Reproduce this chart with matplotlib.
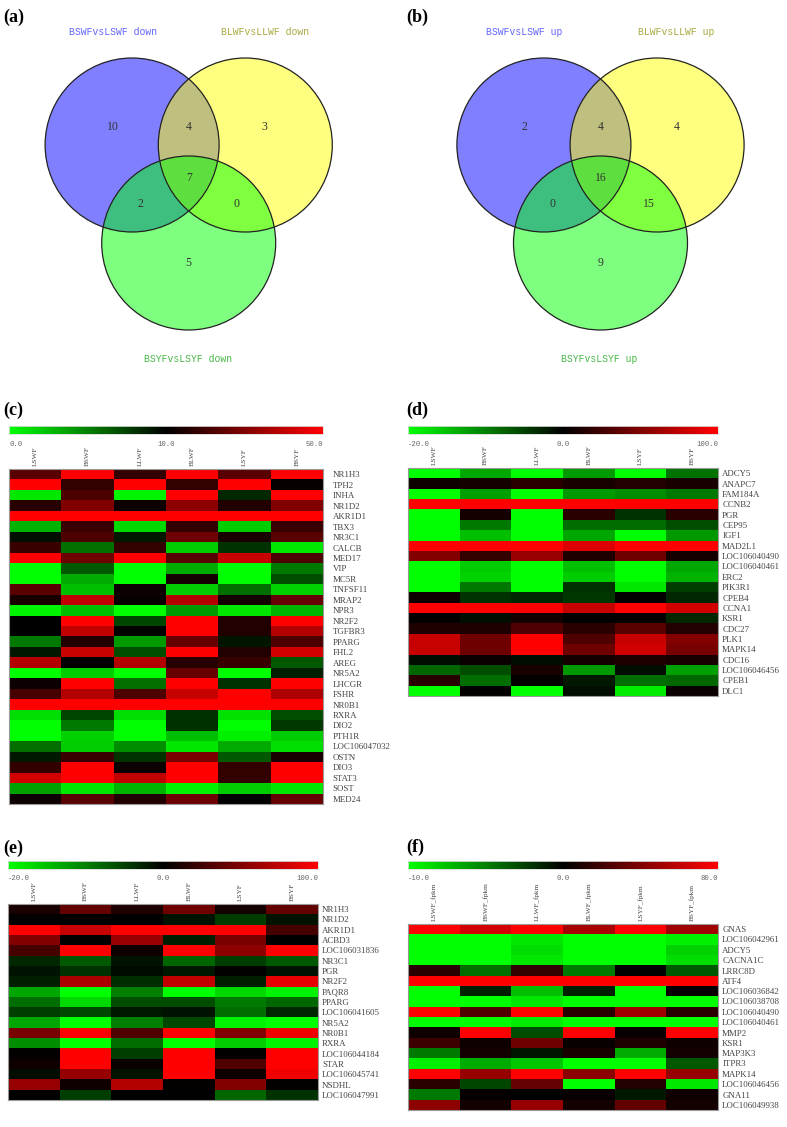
import numpy as np
import matplotlib
matplotlib.use('Agg')
import matplotlib.pyplot as plt
from matplotlib.patches import Circle
from matplotlib.colors import LinearSegmentedColormap, TwoSlopeNorm
from matplotlib.cm import ScalarMappable

W, H = 787, 1127

# ---------------- Venn data ----------------
venn_a_sets = ['BSWFvsLSWF down', 'BLWFvsLLWF down', 'BSYFvsLSYF down']
# regions: A only, AB, B only, AC, ABC, BC, C only
venn_a_counts = [10, 4, 3, 2, 7, 0, 5]
venn_b_sets = ['BSWFvsLSWF up', 'BLWFvsLLWF up', 'BSYFvsLSYF up']
venn_b_counts = [2, 4, 4, 0, 16, 15, 9]

# ---------------- Heatmap data ----------------
cols_c = ['LSWF', 'BSWF', 'LLWF', 'BLWF', 'LSYF', 'BSYF']
rows_c = ['NR1H3', 'TPH2', 'INHA', 'NR1D2', 'AKR1D1', 'TBX3', 'NR3C1', 'CALCB',
          'MED17', 'VIP', 'MC5R', 'TNFSF11', 'MRAP2', 'NPR3', 'NR2F2', 'TGFBR3',
          'PPARG', 'FHL2', 'AREG', 'NR5A2', 'LHCGR', 'FSHR', 'NR0B1', 'RXRA',
          'DIO2', 'PTH1R', 'LOC106047032', 'OSTN', 'DIO3', 'STAT3', 'SOST', 'MED24']
vals_c = [
    [24, 50, 18, 50, 24, 50],
    [50, 18, 50, 18, 50, 11],
    [1, 22, 0.5, 50, 8.5, 50],
    [16, 30, 12, 32, 15, 30],
    [50, 50, 50, 50, 50, 50],
    [3, 19, 1.5, 18, 2, 19],
    [9.5, 22, 9, 27, 14, 24],
    [19, 5.7, 18, 2, 8, 1],
    [50, 27, 50, 24, 41, 22],
    [0, 6.5, 0, 3.3, 0, 5.3],
    [0, 3.3, 0, 13, 0, 7],
    [24, 2.5, 12, 2, 5.7, 1.8],
    [14, 40, 11, 38, 13, 26],
    [0.5, 2.5, 0, 4, 1, 3],
    [10, 50, 7.3, 50, 15, 50],
    [10, 40, 10.5, 50, 15, 38],
    [5.3, 15, 4, 26, 9.2, 22],
    [9, 41, 7, 50, 15, 43],
    [38, 10, 38, 16, 19, 6.5],
    [0, 2, 0, 26, 0, 8.8],
    [12, 50, 5.7, 50, 8, 50],
    [21, 38, 22, 41, 50, 37],
    [50, 50, 50, 50, 50, 50],
    [1.4, 7.3, 1.4, 8.2, 1.2, 7],
    [0, 5.3, 0, 8.2, 0, 7.8],
    [0, 1.8, 0, 2.5, 0.6, 2],
    [5.7, 2, 4.5, 1, 3.3, 1.4],
    [9, 19, 8, 29, 6.5, 14],
    [18, 50, 12, 50, 18, 50],
    [43, 50, 40, 50, 18, 50],
    [3.7, 1, 3, 0.5, 2, 1],
    [12, 24, 15, 27, 10, 26],
]
range_c = (0.0, 10.0, 50.0)

cols_d = ['LSWF', 'BSWF', 'LLWF', 'BLWF', 'LSYF', 'BSYF']
rows_d = ['ADCY5', 'ANAPC7', 'FAM184A', 'CCNB2', 'PGR', 'CEP95', 'IGF1', 'MAD2L1',
          'LOC106040490', 'LOC106040461', 'ERC2', 'PIK3R1', 'CPEB4', 'CCNA1', 'KSR1',
          'CDC27', 'PLK1', 'MAPK14', 'CDC16', 'LOC106046456', 'CPEB1', 'DLC1']
vals_d = [
    [-20, -13, -20, -12, -20, -9],
    [6, 8, 16, 10, 14, 10],
    [-20, -12.5, -20, -12, -11, -9.5],
    [100, 100, 100, 100, 100, 100],
    [-20, 8, -20, 16, -4, 16],
    [-20, -9.5, -20, -8.5, -8.5, -6],
    [-20, -15, -20, -13, -20, -12],
    [100, 100, 100, 86, 100, 100],
    [51, 20, 59, 12, 43, 8],
    [-20, -16, -20, -15, -20, -13],
    [-20, -16.5, -20, -16, -20, -14],
    [-20, -9.5, -20, -4, -18, -4.7],
    [6, -4, -3, -4.3, 2, -3],
    [100, 100, 100, 78, 100, 82],
    [2, -1, 8, 1, 1, -3],
    [12, 12, 31, 16, 35, 14],
    [78, 43, 100, 31, 78, 51],
    [78, 43, 100, 43, 82, 47],
    [-1, 4, -1, 8, 12, 10],
    [-8, -6, 10, -12, -1, -12.5],
    [16, -8.5, 1, -2, -8.5, -8],
    [-20, 2, -20, -1, -18.5, 4],
]
range_d = (-20.0, 0.0, 100.0)

cols_e = ['LSWF', 'BSWF', 'LLWF', 'BLWF', 'LSYF', 'BSYF']
rows_e = ['NR1H3', 'NR1D2', 'AKR1D1', 'ACBD3', 'LOC106031836', 'NR3C1', 'PGR', 'NR2F2',
          'PAQR8', 'PPARG', 'LOC106041605', 'NR5A2', 'NR0B1', 'RXRA', 'LOC106044184',
          'STAR', 'LOC106045741', 'NSDHL', 'LOC106047991']
vals_e = [
    [10, 39, 12, 43, 8, 39],
    [1, 0, 0, -1.5, -4.7, -1.5],
    [100, 78, 100, 100, 100, 27],
    [51, 2, 59, -2.4, 47, 0],
    [27, 100, 6, 100, 55, 100],
    [-3, -7, -1.5, -8, -4.7, -7],
    [-1.5, -4, -0.8, -2, 2, -1.5],
    [-2.4, 67, -3.5, 75, -2.4, 90],
    [-13, -20, -10, -20, -17, -19],
    [-8.5, -17, -6, -6, -9.5, -8],
    [-4.7, -5.5, -2, -1.5, -8.5, -3],
    [-13, -20, -10, -5.5, -19, -20],
    [47, 100, 31, 100, 51, 94],
    [-11, -20, -8.5, -20, -16, -19],
    [2, 100, -4.7, 100, 2, 100],
    [6, 100, 4, 100, 31, 100],
    [-1, 59, -1.5, 100, 6, 94],
    [59, 6, 71, 2, 51, 2],
    [0, -4.7, 0, 0, -8, -4],
]
range_e = (-20.0, 0.0, 100.0)

cols_f = ['LSWF_fpkm', 'BSWF_fpkm', 'LLWF_fpkm', 'BLWF_fpkm', 'LSYF_fpkm', 'BSYF_fpkm']
rows_f = ['GNAS', 'LOC106042961', 'ADCY5', 'CACNA1C', 'LRRC8D', 'ATF4', 'LOC106036842',
          'LOC106038708', 'LOC106040490', 'LOC106040461', 'MMP2', 'KSR1', 'MAP3K3',
          'ITPR3', 'MAPK14', 'LOC106046456', 'GNA11', 'LOC106049938']
vals_f = [
    [80, 66, 80, 53, 80, 50],
    [-10, -10, -9, -10, -10, -9.4],
    [-10, -10, -8.6, -10, -10, -8.2],
    [-10, -10, -9, -10, -10, -8.6],
    [12.5, -4.3, 16, -4.7, 1.5, -3.5],
    [80, 80, 80, 80, 80, 80],
    [-10, -1.2, -7.5, -1.2, -10, 1.5],
    [-10, -10, -9, -10, -10, -10],
    [80, 25, 80, 12.5, 50, 12.5],
    [-10, -10, -9.2, -10, -10, -10],
    [4.7, 80, -3, 80, 3, 80],
    [19, 4.7, 34.5, 3, 9.4, 4.7],
    [-4.7, 6, -0.8, 8, -6.7, 6],
    [-9.4, -6.7, -7.8, -10, -10, -3.5],
    [80, 47, 80, 44, 80, 47],
    [12.5, -2.7, 31, -10, 11, -9],
    [-4.7, 1.5, 0, 3, -1, 4.7],
    [44, 6, 47, 6, 31, 6],
]
range_f = (-10.0, 0.0, 80.0)

# ---------------- Figure ----------------
fig = plt.figure(figsize=(W / 100, H / 100), dpi=100)
cmap = LinearSegmentedColormap.from_list('gkr', ['#00ff00', '#000000', '#ff0000'])


def rect(x0, y0, x1, y1):
    return [x0 / W, 1 - y1 / H, (x1 - x0) / W, (y1 - y0) / H]


def ftext(x, y, s, **kw):
    fig.text(x / W, 1 - y / H, s, **kw)


ax0 = fig.add_axes([0, 0, 1, 1])
ax0.set_xlim(0, W)
ax0.set_ylim(H, 0)
ax0.axis('off')


def venn(gx, gy, names, counts):
    r = 87
    centers = [(gx - 56.6, gy - 32.7), (gx + 56.6, gy - 32.7), (gx, gy + 65.3)]
    fills = ['#0000ff', '#ffff00', '#00ff00']
    for c, col in zip(centers, fills):
        ax0.add_patch(Circle(c, r, facecolor=col, alpha=0.5, edgecolor='none'))
    for c in centers:
        ax0.add_patch(Circle(c, r, fill=False, edgecolor='#222222', lw=0.9))
    offs = [(-76, -51), (0, -51), (76, -51), (-48, 26), (0, 0), (48, 26), (0, 85)]
    for (dx, dy), n in zip(offs, counts):
        ax0.text(gx + dx, gy + dy, str(n), ha='center', va='center',
                 fontsize=8.5, family='Liberation Serif', color='#333333')
    name_offs = [(-76, -146), (76, -146), (-1, 181)]
    name_cols = ['#6464ff', '#a8a840', '#48b848']
    for (dx, dy), nm, c in zip(name_offs, names, name_cols):
        ax0.text(gx + dx, gy + dy, nm, ha='center', va='center',
                 fontsize=7, family='Liberation Mono', color=c)


venn(188.7, 177.7, venn_a_sets, venn_a_counts)
venn(600.5, 177.7, venn_b_sets, venn_b_counts)


def heatmap(hrect, crect, vals, rows, cols, rng, ypad=3):
    vmin, vc, vmax = rng
    norm = TwoSlopeNorm(vcenter=vc, vmin=vmin, vmax=vmax)
    ax = fig.add_axes(rect(*hrect))
    ax.imshow(np.array(vals, dtype=float), cmap=cmap, norm=norm, aspect='auto',
              interpolation='nearest')
    ax.set_xticks(range(len(cols)))
    ax.set_xticklabels(cols, rotation=90, fontsize=5.2, family='Liberation Serif',
                       color='#444444')
    ax.xaxis.tick_top()
    ax.tick_params(axis='x', length=0, pad=2)
    ax.set_yticks(range(len(rows)))
    ax.set_yticklabels(rows, fontsize=6.4, family='Liberation Serif', color='#444444')
    ax.yaxis.tick_right()
    ax.tick_params(axis='y', length=0, pad=ypad)
    for s in ax.spines.values():
        s.set_edgecolor('#999999')
        s.set_linewidth(0.8)
    cax = fig.add_axes(rect(*crect))
    cb = fig.colorbar(ScalarMappable(norm=norm, cmap=cmap), cax=cax,
                      orientation='horizontal')
    cax.set_xticks([])
    cax.minorticks_off()
    cax.tick_params(which='both', length=0, labelbottom=False)
    cb.outline.set_edgecolor('#dddddd')
    cb.outline.set_linewidth(0.6)
    x0, y0, x1, y1 = crect
    ly = y1 + 10
    kw = dict(fontsize=5.2, family='Liberation Mono', color='#666666', va='center')
    ftext(x0, ly, f'{vmin:.1f}', ha='left', **kw)
    ftext((x0 + x1) / 2, ly, f'{vc:.1f}', ha='center', **kw)
    ftext(x1, ly, f'{vmax:.1f}', ha='right', **kw)


heatmap((9, 469, 323, 804), (9, 426, 323, 434), vals_c, rows_c, cols_c, range_c, ypad=7)
heatmap((408, 468, 718, 696), (408, 426, 718, 434), vals_d, rows_d, cols_d, range_d)
heatmap((8, 904, 318, 1100), (8, 861, 318, 869), vals_e, rows_e, cols_e, range_e)
heatmap((408, 924, 718, 1110), (408, 861, 718, 869), vals_f, rows_f, cols_f, range_f)

# panel labels
plab = dict(fontsize=13, family='Liberation Serif', weight='bold', va='center', ha='left')
ftext(3, 17, '(a)', **plab)
ftext(406, 17, '(b)', **plab)
ftext(3, 410, '(c)', **plab)
ftext(406, 410, '(d)', **plab)
ftext(3, 848, '(e)', **plab)
ftext(406, 847, '(f)', **plab)

fig.savefig('out.png', dpi=100)
